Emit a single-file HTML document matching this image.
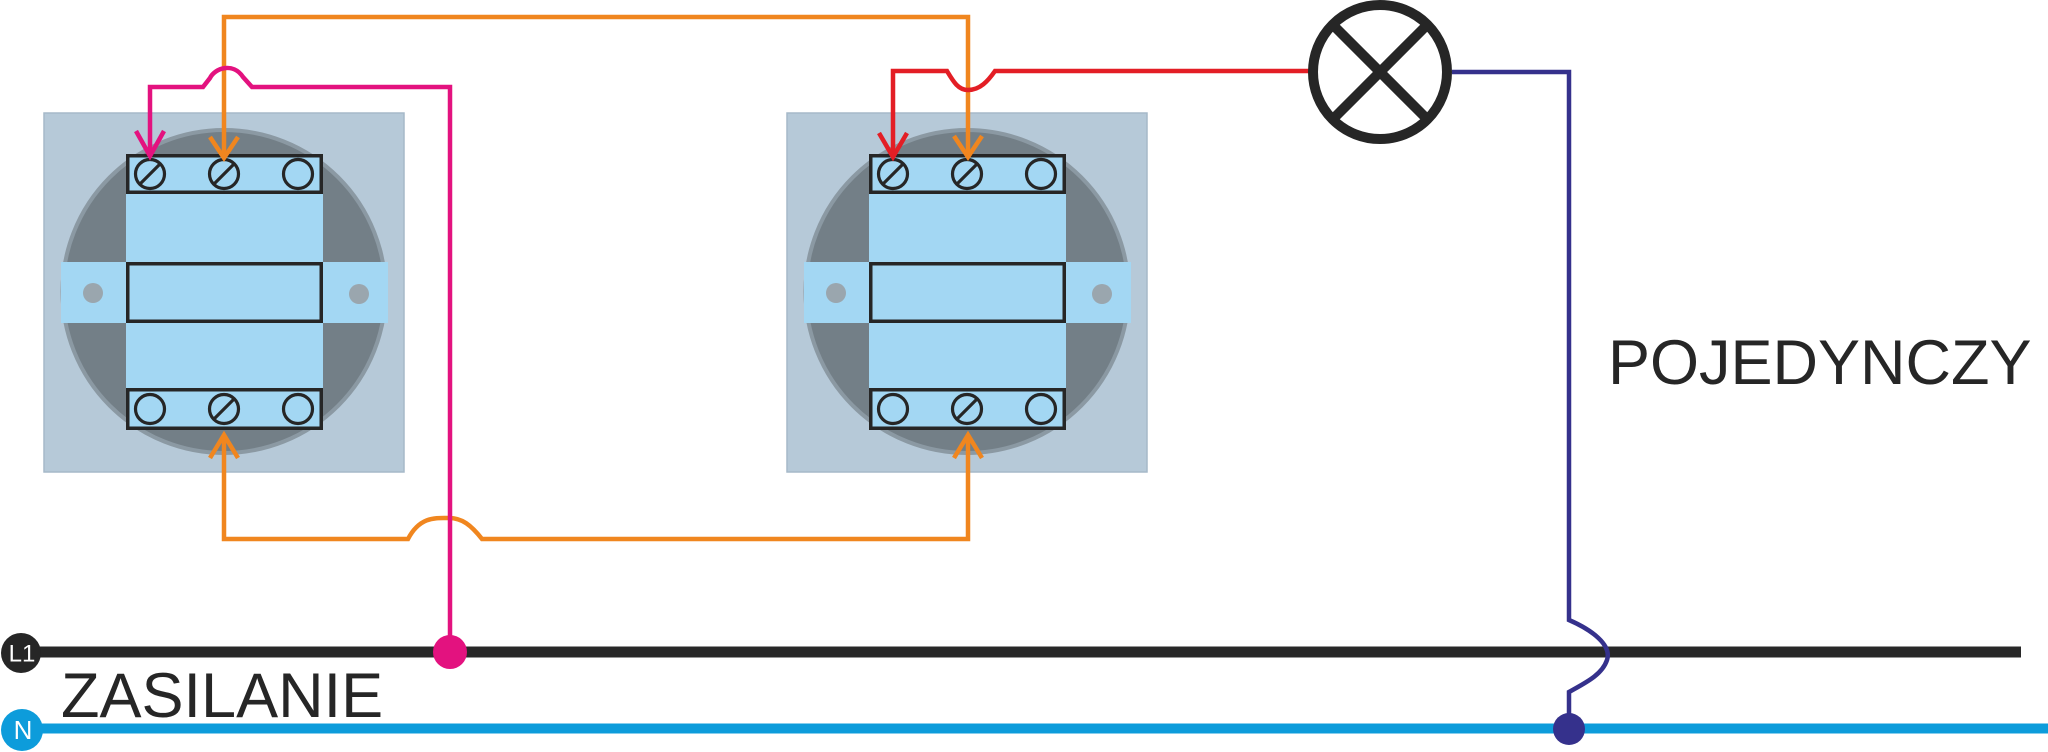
<!DOCTYPE html>
<html>
<head>
<meta charset="utf-8">
<style>
  html,body{margin:0;padding:0;background:#ffffff;}
  svg{display:block;}
  text{font-family:"Liberation Sans", Arial, sans-serif;}
</style>
</head>
<body>
<svg width="2048" height="752" viewBox="0 0 2048 752" xmlns="http://www.w3.org/2000/svg">
  <rect x="0" y="0" width="2048" height="752" fill="#ffffff"/>

  <defs>
    <g id="sw">
      <rect x="44" y="113" width="360" height="359" fill="#b6c9d8" stroke="#a6b9c9" stroke-width="1.5"/>
      <circle cx="224" cy="291.5" r="161.5" fill="#737f87" stroke="#8b99a3" stroke-width="4"/>
      <rect x="61" y="262" width="327" height="61" fill="#a3d7f3"/>
      <rect x="126" y="154" width="197" height="276" fill="#a3d7f3"/>
      <circle cx="93" cy="293" r="10" fill="#9aa6ae"/>
      <circle cx="359" cy="294" r="10" fill="#9aa6ae"/>
      <rect x="127.75" y="155.75" width="193.5" height="36.5" fill="none" stroke="#262626" stroke-width="3.5"/>
      <rect x="127.75" y="263.75" width="193.5" height="57.5" fill="none" stroke="#262626" stroke-width="3.5"/>
      <rect x="127.75" y="389.75" width="193.5" height="38.5" fill="none" stroke="#262626" stroke-width="3.5"/>
      <g fill="none" stroke="#262626" stroke-width="3.2">
        <circle cx="150" cy="174" r="14.5"/>
        <line x1="140" y1="184" x2="160" y2="164"/>
        <circle cx="224" cy="174" r="14.5"/>
        <line x1="214" y1="184" x2="234" y2="164"/>
        <circle cx="298" cy="174" r="14.5"/>
        <circle cx="150" cy="409" r="14.5"/>
        <circle cx="224" cy="409" r="14.5"/>
        <line x1="214" y1="419" x2="234" y2="399"/>
        <circle cx="298" cy="409" r="14.5"/>
      </g>
    </g>
  </defs>

  <use href="#sw"/>
  <use href="#sw" transform="translate(743,0)"/>

  <!-- orange wires -->
  <g fill="none" stroke="#f0861f" stroke-width="4.5" stroke-linejoin="miter">
    <path d="M224,157 L224,17 L968,17 L968,155"/>
    <polyline points="210,137 224,158 238,137"/>
    <polyline points="954,136 968,157 982,136"/>
    <path d="M224,436 L224,539 L408,539 C420,516 436,518 449,518 C462,518 471,525 482,539 L968,539 L968,436"/>
    <polyline points="210,458 224,435 238,458"/>
    <polyline points="954,458 968,435 982,458"/>
  </g>

  <!-- magenta wire -->
  <g fill="none" stroke="#e3127f" stroke-width="4.5">
    <path d="M150,155 L150,87 L203,87 L210,78 C215,68 233,62 243,77 L252,87 L450,87 L450,652"/>
    <polyline points="136,131 150,156 164,131"/>
  </g>

  <!-- red wire -->
  <g fill="none" stroke="#e31e25" stroke-width="4.5">
    <path d="M893,155 L893,71 L947,71 C953,81 958,90 968,90 C980,90 988,81 995,71 L1315,71"/>
    <polyline points="879,133 893,157 907,133"/>
  </g>

  <!-- L1 line -->
  <line x1="22" y1="652" x2="2021" y2="652" stroke="#282828" stroke-width="11"/>
  <!-- N line -->
  <line x1="22" y1="728.5" x2="2048" y2="728.5" stroke="#0d9cdb" stroke-width="10"/>

  <!-- blue wire -->
  <path d="M1452,72 L1569,72 L1569,620 C1592,630 1612,645 1607,660 C1602,675 1585,683 1569,692 L1569,729" fill="none" stroke="#35318c" stroke-width="4.5"/>
  <circle cx="1569" cy="729" r="16" fill="#35318c"/>

  <!-- magenta dot -->
  <circle cx="450" cy="652" r="17" fill="#e3127f"/>

  <!-- lamp -->
  <circle cx="1380" cy="72" r="67" fill="#ffffff" stroke="#262626" stroke-width="10"/>
  <line x1="1334" y1="26" x2="1426" y2="118" stroke="#262626" stroke-width="10"/>
  <line x1="1426" y1="26" x2="1334" y2="118" stroke="#262626" stroke-width="10"/>

  <!-- L1 / N badges -->
  <circle cx="21" cy="653" r="20" fill="#262626"/>
  <text x="22" y="661.5" font-size="24" fill="#ffffff" text-anchor="middle">L1</text>
  <circle cx="22" cy="730" r="21" fill="#0d9cdb"/>
  <text x="23" y="739" font-size="26" fill="#ffffff" text-anchor="middle">N</text>

  <!-- labels -->
  <text x="1608" y="384" font-size="63" fill="#262626">POJEDYNCZY</text>
  <text x="61" y="717" font-size="63" fill="#262626">ZASILANIE</text>
</svg>
</body>
</html>
